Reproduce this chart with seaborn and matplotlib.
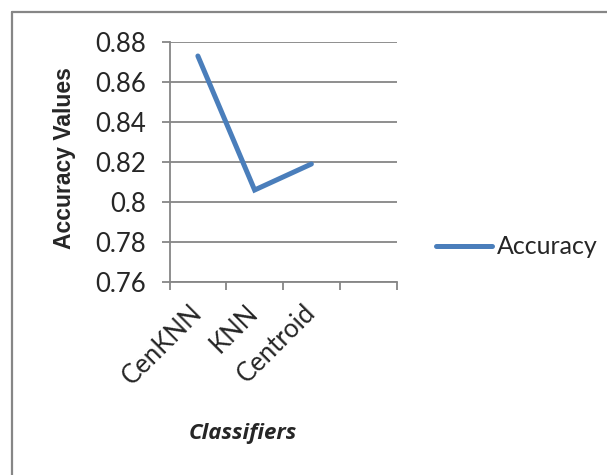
import matplotlib
matplotlib.use("Agg")
import matplotlib.pyplot as plt
from matplotlib.lines import Line2D
import seaborn as sns
import pandas as pd

classifiers = ["CenKNN", "KNN", "Centroid"]
accuracy = [0.873, 0.806, 0.819]
y_ticks = [0.76, 0.78, 0.80, 0.82, 0.84, 0.86, 0.88]
y_tick_labels = ["0.76", "0.78", "0.8", "0.82", "0.84", "0.86", "0.88"]
n_slots = 4  # category slots on the axis (last one empty)

sns.set_theme(style="white")
plt.rcParams["font.family"] = ["Lato", "DejaVu Sans"]

grey = "#868686"
blue = "#4A7EBB"

W, H = 607, 475
fig = plt.figure(figsize=(W / 100, H / 100), dpi=100)
ax = fig.add_axes([169.5 / W, 1 - 282 / H, 227 / W, 240 / H])

df = pd.DataFrame({"pos": [i + 0.5 for i in range(len(classifiers))],
                   "Accuracy": accuracy})
sns.lineplot(data=df, x="pos", y="Accuracy", ax=ax, color=blue,
             linewidth=3.6, label="Accuracy", solid_capstyle="round",
             solid_joinstyle="miter")

ax.set_xlim(0, n_slots)
ax.set_ylim(0.76, 0.88)
ax.set_yticks(y_ticks, y_tick_labels)
ax.set_xticks(range(n_slots + 1), [""] * (n_slots + 1))
ax.set_xticks(df["pos"], classifiers, minor=True)

ax.yaxis.grid(True, color=grey, linewidth=1.3)
ax.xaxis.grid(False)
for side in ("top", "right"):
    ax.spines[side].set_visible(False)
for side in ("left", "bottom"):
    ax.spines[side].set_color(grey)
    ax.spines[side].set_linewidth(1.3)

ax.tick_params(axis="y", which="major", direction="out", length=6, width=1.3,
               color=grey, pad=11, labelsize=18.5, left=True)
ax.tick_params(axis="x", which="major", direction="out", length=6, width=1.3,
               color=grey, bottom=True)
ax.tick_params(axis="x", which="minor", length=0, pad=19, labelsize=18.5)
for lbl in ax.get_xticklabels(minor=True):
    lbl.set_rotation(45)
    lbl.set_ha("right")
    lbl.set_va("center")
    lbl.set_rotation_mode("anchor")

ax.set_xlabel("")
ax.set_ylabel("")
fig.text(64 / W, 1 - 158 / H, "Accuracy Values", rotation=90, ha="center",
         va="center", fontsize=16.5, fontweight="bold",
         family=["Liberation Sans", "DejaVu Sans"])
fig.text(243 / W, 1 - 434 / H, "Classifiers", ha="center", va="center",
         fontsize=16, fontweight="bold", fontstyle="italic",
         family=["Open Sans", "DejaVu Sans"])

leg = ax.legend(loc="center left", bbox_to_anchor=(436 / W, 1 - 247 / H),
                bbox_transform=fig.transFigure, frameon=False, fontsize=18,
                handlelength=2.25, handletextpad=0.2, borderpad=0,
                borderaxespad=0)

# chart-area border (left and top edges)
fig.add_artist(Line2D([11.5 / W, 11.5 / W], [0, 1 - 12 / H],
                      transform=fig.transFigure, color=grey, linewidth=1.6))
fig.add_artist(Line2D([11.5 / W, 1], [1 - 12 / H, 1 - 12 / H],
                      transform=fig.transFigure, color=grey, linewidth=1.6))

fig.savefig("out.png", dpi=100, facecolor="white")
